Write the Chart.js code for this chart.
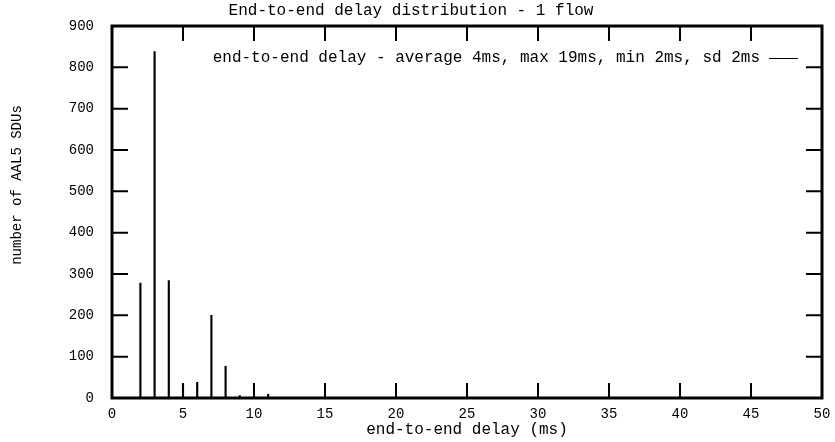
<!DOCTYPE html>
<html>
<head>
<meta charset="utf-8">
<script src="https://cdn.jsdelivr.net/npm/chart.js@4.4.0/dist/chart.umd.min.js"></script>
<style>
  body { margin: 0; background: #fff; }
  canvas { display: block; }
</style>
</head>
<body>
<canvas id="myChart" width="835" height="442"></canvas>
<script>
// data
let delays = [2, 3, 4, 5, 6, 7, 8, 9, 10, 11];
let counts = [278, 838, 284, 30, 38, 200, 77, 6, 4, 9];
let xTicks = [0, 5, 10, 15, 20, 25, 30, 35, 40, 45, 50];
let yTicks = [0, 100, 200, 300, 400, 500, 600, 700, 800, 900];
let legendText = 'end-to-end delay - average 4ms, max 19ms, min 2ms, sd 2ms';

let mono = 'Liberation Mono, DejaVu Sans Mono, monospace';

// gnuplot style frame : border + ticks drawn inside
let frame = {
  id: 'frame',
  afterDatasetsDraw(chart) {
    let c = chart.ctx;
    let a = chart.chartArea;
    let xs = chart.scales.x;
    let ys = chart.scales.y;
    c.save();
    c.strokeStyle = '#000';
    c.lineWidth = 2;
    c.beginPath();
    xTicks.forEach(v => {
      let px = xs.getPixelForValue(v);
      c.moveTo(px, a.bottom); c.lineTo(px, a.bottom - 15);
      c.moveTo(px, a.top); c.lineTo(px, a.top + 15);
    });
    yTicks.forEach(v => {
      let py = ys.getPixelForValue(v);
      c.moveTo(a.left, py); c.lineTo(a.left + 16, py);
      c.moveTo(a.right, py); c.lineTo(a.right - 16, py);
    });
    c.stroke();
    c.lineWidth = 3;
    c.strokeRect(a.left, a.top, a.right - a.left, a.bottom - a.top);

    // key
    c.fillStyle = '#000';
    c.font = '16px ' + mono;
    c.textAlign = 'right';
    c.textBaseline = 'middle';
    c.fillText(legendText, 760, 58);
    c.lineWidth = 1;
    c.beginPath();
    c.moveTo(769, 58.5); c.lineTo(798, 58.5);
    c.stroke();

    // y label
    c.translate(17, 185);
    c.rotate(-Math.PI / 2);
    c.textAlign = 'center';
    c.font = '14px ' + mono;
    c.fillText('number of AAL5 SDUs', 0, 0);
    c.restore();
  }
};

let ctx = document.getElementById('myChart').getContext('2d');
let myChart = new Chart(ctx, {
  type: 'bar',
  data: {
    datasets: [{
      data: delays.map((d, i) => ({ x: d, y: counts[i] })),
      backgroundColor: '#000',
      barThickness: 1.5
    }]
  },
  options: {
    responsive: false,
    animation: false,
    layout: { padding: { left: 0, right: 13, top: 0, bottom: 0 } },
    plugins: {
      legend: { display: false },
      tooltip: { enabled: false },
      title: {
        display: true,
        text: 'End-to-end delay distribution - 1 flow',
        color: '#000',
        font: { family: mono, size: 16, weight: 'normal', lineHeight: 1.2 },
        padding: { top: 1, bottom: 5.8 }
      }
    },
    scales: {
      x: {
        type: 'linear',
        min: 0,
        max: 50,
        offset: false,
        grid: { display: false },
        border: { display: false },
        afterBuildTicks: (s) => { s.ticks = xTicks.map(v => ({ value: v })); },
        afterFit: (s) => { s.height = 44; },
        ticks: { color: '#000', font: { family: mono, size: 14 }, padding: 0, maxRotation: 0 },
        title: {
          display: true,
          text: 'end-to-end delay (ms)',
          color: '#000',
          font: { family: mono, size: 16 },
          padding: { top: 0, bottom: 3 }
        }
      },
      y: {
        min: 0,
        max: 900,
        grid: { display: false },
        border: { display: false },
        afterBuildTicks: (s) => { s.ticks = yTicks.map(v => ({ value: v })); },
        afterFit: (s) => { s.width = 112; },
        ticks: { color: '#000', font: { family: mono, size: 14 }, padding: 10 }
      }
    }
  },
  plugins: [frame]
});
</script>
</body>
</html>
